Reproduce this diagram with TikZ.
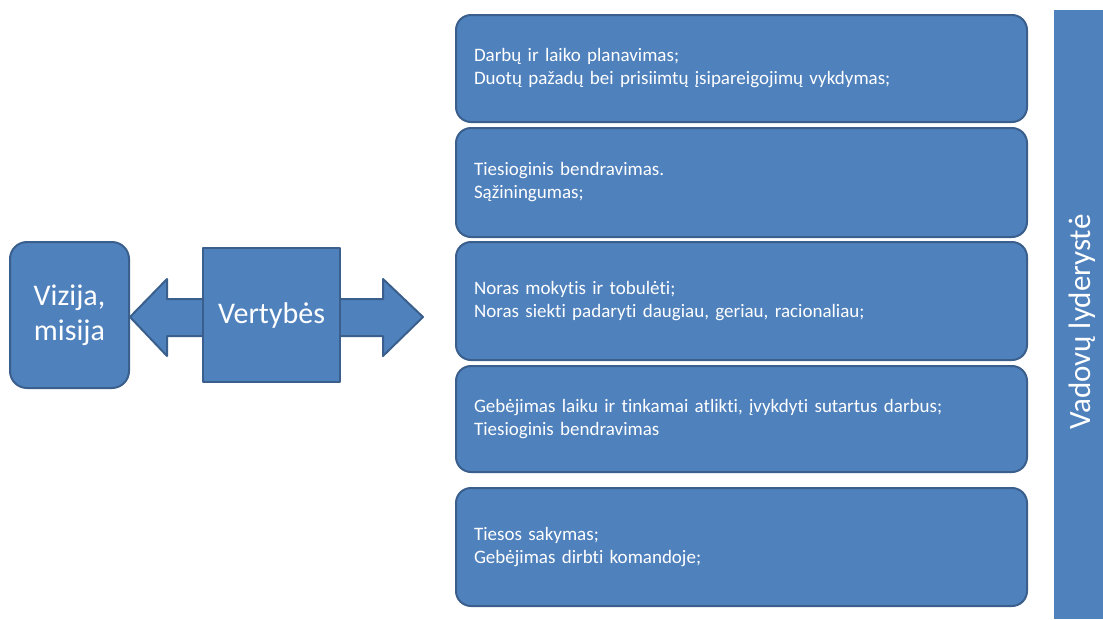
\documentclass[tikz,border=0pt]{standalone}
\usepackage{fontspec}
\setmainfont{Carlito}[Ligatures=NoCommon]
\usetikzlibrary{positioning}
\definecolor{boxblue}{HTML}{4F81BD}
\definecolor{boxline}{HTML}{3A5F8C}
\tikzset{
  box/.style={draw=boxline, line width=2pt, fill=boxblue, text=white},
  listbox/.style={box, rounded corners=15pt, minimum width=571pt, text width=535pt,
    inner xsep=18pt, align=left, font=\fontsize{19}{23}\selectfont},
  bigfont/.style={font=\fontsize{30}{35}\selectfont}
}
\begin{document}
\begin{tikzpicture}[x=1pt, y=-1pt, line join=round]
  \useasboundingbox (0,0) rectangle (1103,619);
  % left side
  \node[box, bigfont, rounded corners=17pt, minimum width=119pt, minimum height=146pt, align=center] (viz) at (69.5,315) {Vizija,\\misija};
  % double arrow
  \coordinate (t1) at (130,317);
  \coordinate (t2) at (423,317);
  \draw[box] (t1) -- (167,279) -- (167,299) -- (383,299) -- (383,279) -- (t2)
    -- (383,356) -- (383,336) -- (167,336) -- (167,356) -- cycle;
  \node[box, bigfont, minimum width=137pt, minimum height=134pt] (vert) at (271.5,315) {Vertybės};
  % list
  \node[listbox, minimum height=107pt] (b1) at (741.5,68.5) {Darbų ir laiko planavimas;\\Duotų pažadų bei prisiimtų įsipareigojimų vykdymas;};
  \node[listbox, minimum height=109pt] (b2) at (741.5,182.5) {Tiesioginis bendravimas.\\Sąžiningumas;};
  \node[listbox, minimum height=118pt] (b3) at (741.5,301) {Noras mokytis ir tobulėti;\\Noras siekti padaryti daugiau, geriau, racionaliau;};
  \node[listbox, minimum height=106pt] (b4) at (741.5,419) {Gebėjimas laiku ir tinkamai atlikti, įvykdyti sutartus darbus;\\Tiesioginis bendravimas};
  \node[listbox, minimum height=118pt] (b5) at (741.5,547) {Tiesos sakymas;\\Gebėjimas dirbti komandoje;};
  % bar
  \node[fill=boxblue, inner sep=0pt, minimum width=49pt, minimum height=609pt, anchor=north west] (bar) at (1054,10) {};
  \node[rotate=90, text=white, font=\fontsize{31}{36}\selectfont] (lead) at (1082,322) {Vadovų lyderystė};
\end{tikzpicture}
\end{document}
